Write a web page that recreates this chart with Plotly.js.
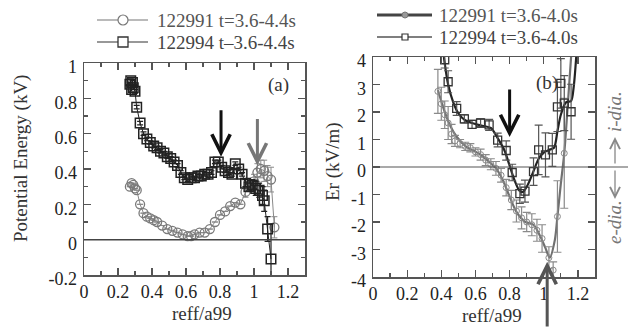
<!DOCTYPE html>
<html><head><meta charset="utf-8">
<script src="https://cdn.plot.ly/plotly-3.0.1.min.js"></script>
<style>html,body{margin:0;padding:0;background:#fff}#c{width:632px;height:328px}</style>
</head><body><div id="c"></div>
<script>
// ---------- data: panel (a) potential energy ----------
const xTicks = [0, 0.2, 0.4, 0.6, 0.8, 1, 1.2];
const xTickText = ["0", "0.2", "0.4", "0.6", "0.8", "1", "1.2"];
const yTicksA = [-0.2, 0, 0.2, 0.4, 0.6, 0.8, 1];
const yTickTextA = ["-0.2", "0", "0.2", "0.4", "0.6", "0.8", "1"];
const yTicksB = [-4, -3, -2, -1, 0, 1, 2, 3, 4];
const yTickTextB = ["-4", "-3", "-2", "-1", "0", "1", "2", "3", "4"];

const legA1 = "122991 t=3.6-4.4s";
const legA2 = "122994 t\u20133.6-4.4s";
const legB1 = "122991 t=3.6-4.0s";
const legB2 = "122994 t=3.6-4.0s";

const aCircX = [0.27,0.28,0.29,0.30,0.31,0.33,0.35,0.37,0.39,0.41,0.43,0.46,0.49,0.52,0.55,0.58,0.61,0.63,0.65,0.68,0.71,0.74,0.77,0.80,0.83,0.86,0.89,0.92,0.95,0.98,1.00,1.02,1.04,1.06,1.08,1.10,1.12];
const aCircY = [0.30,0.32,0.31,0.29,0.28,0.20,0.15,0.13,0.12,0.11,0.10,0.08,0.06,0.05,0.04,0.03,0.02,0.02,0.03,0.04,0.04,0.06,0.10,0.14,0.16,0.19,0.21,0.20,0.27,0.31,0.33,0.38,0.40,0.39,0.36,0.34,0.07];
const aCircE = [0,0,0,0,0,0,0,0,0,0,0,0,0,0,0,0,0,0,0,0,0,0,0,0,0,0,0,0,0.03,0.03,0.04,0.05,0.05,0.06,0.06,0.07,0.06];

const aSqX = [0.27,0.275,0.28,0.285,0.29,0.30,0.31,0.33,0.35,0.37,0.39,0.41,0.43,0.45,0.47,0.49,0.51,0.53,0.55,0.57,0.59,0.61,0.63,0.65,0.67,0.69,0.71,0.73,0.75,0.77,0.79,0.81,0.83,0.85,0.87,0.89,0.91,0.93,0.95,0.97,0.99,1.01,1.03,1.05,1.06,1.08,1.10];
const aSqY = [0.88,0.90,0.85,0.89,0.86,0.84,0.75,0.66,0.60,0.57,0.55,0.53,0.52,0.50,0.49,0.47,0.46,0.44,0.42,0.38,0.35,0.34,0.35,0.35,0.36,0.36,0.37,0.37,0.38,0.44,0.44,0.41,0.39,0.38,0.37,0.43,0.40,0.37,0.32,0.30,0.31,0.29,0.28,0.25,0.22,0.06,-0.11];
const aSqE = [0.01,0.01,0.01,0.01,0.01,0.01,0.01,0.01,0.01,0.01,0.01,0.01,0.01,0.01,0.01,0.01,0.01,0.01,0.01,0.01,0.01,0.01,0.01,0.01,0.01,0.01,0.01,0.01,0.01,0.01,0.01,0.01,0.01,0.01,0.01,0.01,0.01,0.01,0.02,0.02,0.03,0.04,0.04,0.05,0.06,0.07,0.2];

// ---------- data: panel (b) radial electric field ----------
const bCircX = [0.38,0.40,0.42,0.44,0.46,0.48,0.51,0.54,0.57,0.60,0.63,0.66,0.69,0.72,0.75,0.78,0.81,0.84,0.87,0.90,0.93,0.96,0.99,1.03,1.055,1.08,1.12];
const bCircY = [2.75,2.3,1.9,1.6,1.2,0.95,0.85,0.75,0.7,0.55,0.45,0.25,0.1,-0.05,-0.3,-0.75,-1.2,-1.6,-1.85,-2.0,-2.1,-2.3,-2.6,-3.3,-3.75,-1.8,0.5];
const bCircE = [0.8,0.6,0.5,0.6,0.35,0.2,0.15,0.15,0.15,0.15,0.2,0.2,0.2,0.25,0.25,0.3,0.35,0.4,0.4,0.35,0.4,0.4,0.5,0.4,0.3,1.3,2.0];
const bCircFitX = [0.38,0.41,0.45,0.49,0.545,0.60,0.64,0.68,0.72,0.76,0.80,0.84,0.89,0.94,0.98,1.01,1.035,1.065,1.08,1.10,1.12,1.14,1.16];
const bCircFitY = [2.8,2.19,1.53,1.1,0.74,0.56,0.4,0.19,-0.05,-0.47,-1.08,-1.63,-1.99,-2.1,-2.53,-2.95,-3.3,-2.65,-1.8,-0.6,0.5,2.2,4.0];

const bSqX = [0.42,0.44,0.49,0.535,0.58,0.63,0.68,0.73,0.78,0.815,0.86,0.89,0.94,0.97,1.01,1.05,1.08,1.10,1.12,1.16];
const bSqY = [3.9,3.1,2.13,1.75,1.55,1.6,1.53,0.98,0.6,-0.2,-0.97,-0.88,-0.17,0.62,0.44,0.62,2.19,3.04,2.32,2.01];
const bSqE = [0.3,0.4,0.25,0.15,0.15,0.15,0.2,0.25,0.35,0.3,0.35,0.4,0.5,0.9,0.8,0.6,0.9,0.9,1.0,1.0];
const bSqFitX = [0.415,0.44,0.47,0.50,0.54,0.59,0.64,0.69,0.73,0.77,0.80,0.83,0.86,0.88,0.91,0.94,0.97,1.00,1.03,1.06,1.08,1.10,1.13,1.16,1.175,1.19];
const bSqFitY = [4.0,3.0,2.35,1.95,1.7,1.58,1.5,1.42,1.05,0.6,0.05,-0.5,-0.88,-0.9,-0.6,-0.15,0.3,0.52,0.62,0.7,1.3,1.9,2.35,2.4,2.9,4.0];

// ---------- helpers ----------
const W = 632, H = 328;
const PX = v => v / W, PY = v => 1 - v / H;
const FONT = "Liberation Serif, Times New Roman, serif";
const AX = '#555';

function axisX(dom, anchor) {
  return {domain: dom, anchor: anchor, range: [0, 1.3], tickvals: xTicks, ticktext: xTickText,
    showline: true, linecolor: AX, linewidth: 1.5, mirror: 'ticks', ticks: 'inside', ticklen: 7,
    tickwidth: 1.2, tickcolor: AX, showgrid: false, zeroline: false,
    minor: {ticks: 'inside', dtick: 0.1, tick0: 0, ticklen: 4, tickwidth: 1.2, tickcolor: AX, showgrid: false},
    tickfont: {family: FONT, size: 18, color: '#222'}, fixedrange: true};
}
function axisY(dom, anchor, range, tv, tt, minorDtick) {
  const a = {domain: dom, anchor: anchor, range: range, tickvals: tv, ticktext: tt,
    showline: true, linecolor: AX, linewidth: 1.5, mirror: 'ticks', ticks: 'inside', ticklen: 7,
    tickwidth: 1.2, tickcolor: AX, showgrid: false, zeroline: false, ticklabelshift: 4, ticklabelstandoff: 2,
    tickfont: {family: FONT, size: 18, color: '#222'}, fixedrange: true};
  if (minorDtick) a.minor = {ticks: 'inside', dtick: minorDtick, tick0: 0, ticklen: 4, tickwidth: 1.2, tickcolor: AX, showgrid: false};
  return a;
}

const traces = [
  {x: aCircX, y: aCircY, xaxis: 'x', yaxis: 'y', mode: 'lines+markers', showlegend: false,
   line: {color: '#8a8a8a', width: 1},
   marker: {symbol: 'circle-open', size: 9, color: '#7a7a7a', line: {width: 1.3}},
   error_y: {type: 'data', array: aCircE, color: '#8a8a8a', thickness: 1, width: 3}},
  {x: aSqX, y: aSqY, xaxis: 'x', yaxis: 'y', mode: 'lines+markers', showlegend: false,
   line: {color: '#222', width: 1},
   marker: {symbol: 'square-open', size: 9.5, color: '#222', line: {width: 1.5}},
   error_y: {type: 'data', array: aSqE, color: '#222', thickness: 1.2, width: 3}},
  {x: bCircFitX, y: bCircFitY, xaxis: 'x2', yaxis: 'y2', mode: 'lines', showlegend: false,
   line: {color: '#707070', width: 2.2, shape: 'spline', smoothing: 0.8}},
  {x: bCircX, y: bCircY, xaxis: 'x2', yaxis: 'y2', mode: 'markers', showlegend: false,
   marker: {symbol: 'circle-open', size: 6, color: '#8a8a8a', line: {width: 1}},
   error_y: {type: 'data', array: bCircE, color: '#8a8a8a', thickness: 1.2, width: 4}},
  {x: bSqFitX, y: bSqFitY, xaxis: 'x2', yaxis: 'y2', mode: 'lines', showlegend: false,
   line: {color: '#222', width: 2.2, shape: 'spline', smoothing: 0.8}},
  {x: bSqX, y: bSqY, xaxis: 'x2', yaxis: 'y2', mode: 'markers', showlegend: false,
   marker: {symbol: 'square-open', size: 8, color: '#333', line: {width: 1.3}},
   error_y: {type: 'data', array: bSqE, color: '#555', thickness: 1.2, width: 4}}
];

function txt(text, x, y, size, opts) {
  return Object.assign({text: text, xref: 'paper', yref: 'paper', x: PX(x), y: PY(y), showarrow: false,
    xanchor: 'center', yanchor: 'middle', font: {family: FONT, size: size, color: '#333'}}, opts || {});
}
function marker(type, cx, cy, r, color, fill, lw) {
  return {type: type, xref: 'paper', yref: 'paper', xsizemode: 'pixel', ysizemode: 'pixel',
    xanchor: PX(cx), yanchor: PY(cy), x0: -r, x1: r, y0: -r, y1: r,
    line: {color: color, width: lw}, fillcolor: fill};
}
function seg(x0, x1, y, color, w) {
  return {type: 'line', xref: 'paper', yref: 'paper', x0: PX(x0), x1: PX(x1), y0: PY(y), y1: PY(y), line: {color: color, width: w}};
}

const shapes = [
  {type: 'line', xref: 'x', yref: 'y', x0: 0, x1: 1.3, y0: 0, y1: 0, line: {color: '#444', width: 1.5}},
  {type: 'line', xref: 'paper', yref: 'y2', x0: PX(373), x1: PX(628), y0: 0, y1: 0, line: {color: '#555', width: 1.2}},
  // legend (a)
  seg(97, 148, 20, '#777', 1.2), marker('circle', 123, 20, 5, '#777', 'white', 1.2),
  seg(97, 148, 42, '#333', 1.2), marker('rect', 123, 42, 5, '#333', 'white', 1.3),
  // legend (b)
  seg(377, 432, 15, '#444', 3.2), marker('circle', 405, 15, 3, '#777', '#999', 1),
  seg(377, 432, 37, '#555', 1.3), marker('rect', 405, 37, 3, '#333', 'white', 1.2)
];

const annotations = [
  txt(legA1, 155, 20, 19, {xanchor: 'left', font: {family: FONT, size: 19, color: '#555'}}),
  txt(legA2, 155, 42, 19, {xanchor: 'left', font: {family: FONT, size: 19, color: '#444'}}),
  txt(legB1, 437, 15, 19, {xanchor: 'left', font: {family: FONT, size: 19, color: '#555'}}),
  txt(legB2, 437, 37, 19, {xanchor: 'left', font: {family: FONT, size: 19, color: '#444'}}),
  txt('(a)', 278, 85, 19),
  txt('(b)', 547, 83, 19),
  txt('Potential Energy (kV)', 21, 159, 19, {textangle: -90}),
  txt('Er (kV/m)', 333, 162, 19, {textangle: -90}),
  txt('reff/a99', 202, 313, 19),
  txt('reff/a99', 492, 315, 19),
  txt('<i>i-dia.</i>', 614, 112, 19, {textangle: -90, font: {family: FONT, size: 19, color: '#777'}}),
  txt('<i>e-dia.</i>', 614, 222, 19, {textangle: -90, font: {family: FONT, size: 19, color: '#777'}}),
  // direction arrows at right of (b)
  {xref: 'paper', yref: 'paper', x: PX(615), y: PY(137), ax: 0, ay: 28, text: '', showarrow: true,
   arrowhead: 5, arrowsize: 1.5, arrowwidth: 1.3, arrowcolor: '#888'},
  {xref: 'paper', yref: 'paper', x: PX(615), y: PY(199), ax: 0, ay: -30, text: '', showarrow: true,
   arrowhead: 5, arrowsize: 1.5, arrowwidth: 1.3, arrowcolor: '#888'},
  // marker arrows
  {xref: 'x', yref: 'y', x: 0.806, y: 0.47, ax: 0, ay: -48, text: '', showarrow: true,
   arrowhead: 5, arrowsize: 1.2, arrowwidth: 3, arrowcolor: '#111'},
  {xref: 'x', yref: 'y', x: 1.02, y: 0.42, ax: 0, ay: -48, text: '', showarrow: true,
   arrowhead: 5, arrowsize: 1.2, arrowwidth: 3, arrowcolor: '#777'},
  {xref: 'x2', yref: 'y2', x: 0.80, y: 1.09, ax: 0, ay: -49, text: '', showarrow: true,
   arrowhead: 5, arrowsize: 1.2, arrowwidth: 3, arrowcolor: '#111'},
  {xref: 'x2', yref: 'y2', x: 1.02, y: -3.45, ax: 0, ay: 70, text: '', showarrow: true,
   arrowhead: 5, arrowsize: 1.2, arrowwidth: 3, arrowcolor: '#555'}
];

const layout = {
  width: W, height: H, margin: {l: 0, r: 0, t: 0, b: 0},
  paper_bgcolor: 'white', plot_bgcolor: 'white', showlegend: false,
  font: {family: FONT, color: '#222'},
  xaxis: axisX([84 / W, 305 / W], 'y'),
  yaxis: axisY([(H - 275) / H, (H - 63) / H], 'x', [-0.2, 1.0], yTicksA, yTickTextA, 0.1),
  xaxis2: axisX([373 / W, 595 / W], 'y2'),
  yaxis2: axisY([(H - 277) / H, (H - 57) / H], 'x2', [-4, 4], yTicksB, yTickTextB, null),
  shapes: shapes, annotations: annotations
};

Plotly.newPlot('c', traces, layout, {staticPlot: true, displayModeBar: false});
</script></body></html>
